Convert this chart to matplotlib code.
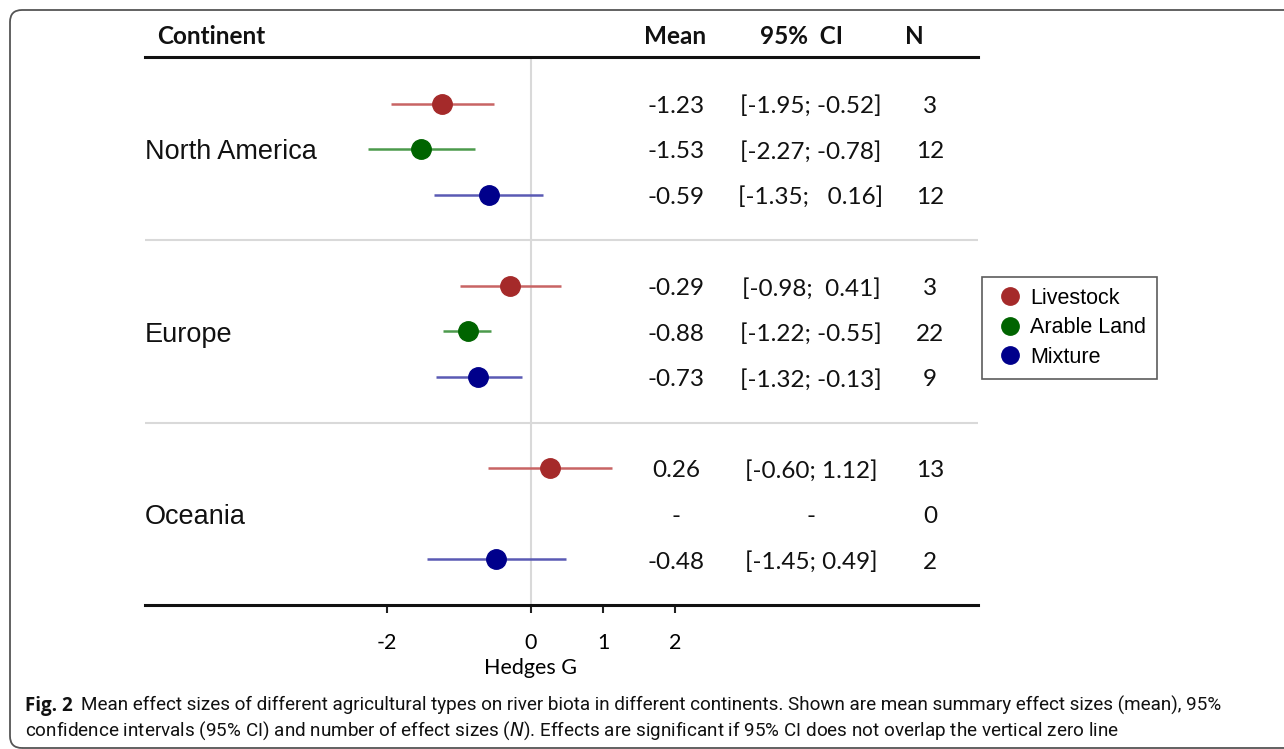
import numpy as np
import matplotlib
matplotlib.use("Agg")
import matplotlib.pyplot as plt
import matplotlib.transforms as mtransforms
from matplotlib.lines import Line2D
from matplotlib.patches import FancyBboxPatch

# data
continents = ['North America', 'Europe', 'Oceania']
types = ['Livestock', 'Arable Land', 'Mixture']
means = [[-1.23, -1.53, -0.59],
         [-0.29, -0.88, -0.73],
         [0.26, np.nan, -0.48]]
ci_low = [[-1.95, -2.27, -1.35],
          [-0.98, -1.22, -1.32],
          [-0.60, np.nan, -1.45]]
ci_high = [[-0.52, -0.78, 0.16],
           [0.41, -0.55, -0.13],
           [1.12, np.nan, 0.49]]
n_sizes = [[3, 12, 12],
           [3, 22, 9],
           [13, 0, 2]]
mean_labels = [['-1.23', '-1.53', '-0.59'],
               ['-0.29', '-0.88', '-0.73'],
               ['0.26', '-', '-0.48']]
ci_labels = [['[-1.95; -0.52]', '[-2.27; -0.78]', '[-1.35;   0.16]'],
             ['[-0.98;  0.41]', '[-1.22; -0.55]', '[-1.32; -0.13]'],
             ['[-0.60; 1.12]', '-', '[-1.45; 0.49]']]
xticks = [-2, 0, 1, 2]

dot_colors = ['#a52a2a', '#006400', '#00008b']
bar_colors = ['#c86464', '#4c9a4c', '#5a5ab4']

W, H = 1284, 749
fig = plt.figure(figsize=(W / 100, H / 100), dpi=100)

def fx(px):
    return px / W

def fy(py):
    return 1 - py / H

ax = fig.add_axes([fx(145), fy(605), fx(978) - fx(145), fy(57) - fy(605)])
ax.set_xlim((145 - 531) / 72.0, (978 - 531) / 72.0)
ax.set_ylim(11.0, -1.02)

# reference lines
ax.axvline(0, color='#d9d9d9', lw=1.5, zorder=0)
for ysep in [3, 7]:
    ax.axhline(ysep, color='#d9d9d9', lw=1.5, zorder=0)

row_tf = mtransforms.blended_transform_factory(fig.transFigure, ax.transData)
num_font = dict(family='Lato', fontsize=17.5, color='#111111')

for g, cont in enumerate(continents):
    for i in range(3):
        y = g * 4 + i
        if not np.isnan(means[g][i]):
            ax.hlines(y, ci_low[g][i], ci_high[g][i], color=bar_colors[i], lw=1.8, zorder=2)
            ax.plot(means[g][i], y, 'o', color=dot_colors[i], ms=14, zorder=3)
        ty = y + 0.06
        ax.text(fx(676), ty, mean_labels[g][i], transform=row_tf, ha='center', va='center', **num_font)
        ax.text(fx(811), ty, ci_labels[g][i], transform=row_tf, ha='center', va='center', **num_font)
        ax.text(fx(930), ty, str(n_sizes[g][i]), transform=row_tf, ha='center', va='center', **num_font)
    ax.text(fx(145), g * 4 + 1.07, cont, transform=row_tf, ha='left', va='center',
            family='Liberation Sans', fontsize=19.5, color='#111111')

# axis styling
for side in ['left', 'right']:
    ax.spines[side].set_visible(False)
for side in ['top', 'bottom']:
    ax.spines[side].set_linewidth(2.2)
    ax.spines[side].set_color('#111111')
ax.set_yticks([])
ax.set_xticks(xticks)
ax.set_xticklabels([str(t) for t in xticks], family='Lato', fontsize=15.5)
ax.tick_params(axis='x', length=6, width=1.5, color='#222222', pad=14)
ax.set_xlabel('Hedges G', family='Lato', fontsize=15.5)
ax.xaxis.set_label_coords((531 - 145) / 833.0, -63 / 548.0)
ax.xaxis.label.set_verticalalignment('center')

# header
hdr = dict(family='Lato', fontweight='bold', fontsize=17.5, va='center', color='#111111')
fig.text(fx(157), fy(37), 'Continent', ha='left', **hdr)
fig.text(fx(675), fy(37), 'Mean', ha='center', **hdr)
fig.text(fx(801), fy(37), '95%  CI', ha='center', **hdr)
fig.text(fx(914), fy(37), 'N', ha='center', **hdr)

# legend
handles = [Line2D([], [], ls='none', marker='o', ms=12.5, color=c) for c in dot_colors]
leg = fig.legend(handles, types, loc='upper left', bbox_to_anchor=(fx(982), fy(277)),
                 bbox_transform=fig.transFigure, borderaxespad=0, frameon=True,
                 fancybox=False, edgecolor='#333333', handletextpad=0.15,
                 labelspacing=0.4, borderpad=0.5, handlelength=1.6,
                 prop={'family': 'Liberation Sans', 'size': 15.5})
leg.get_frame().set_linewidth(1.2)

# caption
cap_bold = fig.text(fx(25), fy(711), 'Fig. 2', ha='left', va='baseline',
                    family='Open Sans', fontweight='bold', fontsize=13.5, color='#111111')
line1 = ('Mean effect sizes of different agricultural types on river biota in different continents. '
         'Shown are mean summary effect sizes (mean), 95%')
line2 = ('confidence intervals (95% CI) and number of effect sizes ($\\it{N}$). Effects are significant '
         'if 95% CI does not overlap the vertical zero line')
cap1 = fig.text(fx(83), fy(711), line1, ha='left', va='baseline',
                family='Roboto', fontsize=14, color='#111111')
cap2 = fig.text(fx(25), fy(736), line2, ha='left', va='baseline',
                family='Roboto', fontsize=14, color='#111111')

# fit the caption width to the picture
fig.canvas.draw()
r = fig.canvas.get_renderer()
bb = cap_bold.get_window_extent(r)
cap1.set_x((bb.x1 + 8) / W)
w1 = cap1.get_window_extent(r).width
size = 14 * (1237 - bb.x1 - 8) / w1
cap1.set_fontsize(size)
cap2.set_fontsize(size)

# rounded frame
frame = FancyBboxPatch((10, 1), 1310, 738, boxstyle='round,pad=0,rounding_size=12',
                       transform=None, fill=False, edgecolor='#555555', lw=1.3)
fig.add_artist(frame)

fig.savefig('out.png', dpi=100)
